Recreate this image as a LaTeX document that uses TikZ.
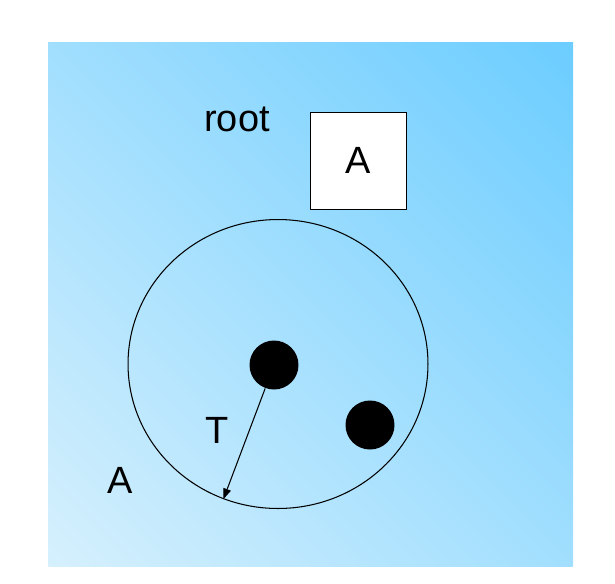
\documentclass[tikz,border=0pt]{standalone}
\usepackage{fontspec}
\setmainfont{Liberation Sans}
\usetikzlibrary{shapes.geometric,arrows.meta}
\definecolor{skytop}{RGB}{108,205,255}
\definecolor{skybot}{RGB}{214,240,253}

\begin{document}
\begin{tikzpicture}[x=0.02cm, y=-0.02cm, line width=0.6pt,
  lbl/.style={font=\fontsize{21.6}{26}\selectfont, inner sep=0pt},
  dot/.style={circle, fill=black, minimum size=0.98cm, inner sep=0pt}]
  \useasboundingbox (0,0) rectangle (615,583);
  % background, corner to corner
  \begin{scope}
    \clip (48,42) rectangle (573,566);
    \begin{scope}[transform canvas={rotate around={-45:(310.5,304)}}]
      \shade[top color=skytop, bottom color=skybot] (-60.5,-67) rectangle (681.5,675);
    \end{scope}
  \end{scope}
  \node[lbl, anchor=base] (rootlbl) at (237,131.7) {root};
  \node[lbl, draw, fill=white, line width=0.5pt, minimum width=1.92cm, minimum height=1.94cm] (rootbox) at (358,160.5) {A};
  \node[ellipse, draw, minimum width=6cm, minimum height=5.78cm, inner sep=0pt] (ring) at (278,364) {};
  \node[dot] (big) at (274,365) {};
  \node[dot] (small) at (370,425) {};
  \draw[-{Triangle[length=6pt,width=4.5pt]}] (big) -- (ring.248);
  \node[lbl, anchor=base] (tlbl) at (217.3,443.3) {T};
  \node[lbl, anchor=base] (alabel) at (120,493.3) {A};
\end{tikzpicture}
\end{document}
